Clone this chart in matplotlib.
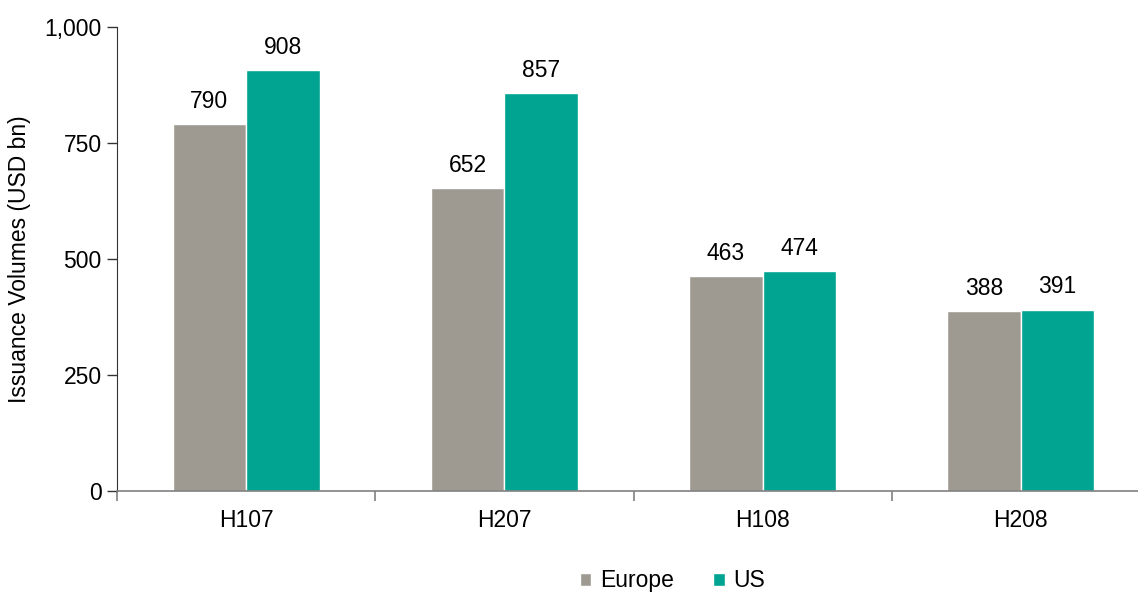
import numpy as np
import matplotlib.pyplot as plt
from matplotlib.ticker import FuncFormatter, FixedLocator

# Issuance volumes by half-year
periods = ['H107', 'H207', 'H108', 'H208']
europe = [790, 652, 463, 388]
us = [908, 857, 474, 391]

europe_color = '#9e9a92'
us_color = '#00a491'

plt.rcParams['font.family'] = ['Liberation Sans', 'DejaVu Sans']
fs = 16.5

fig = plt.figure(figsize=(11.38, 5.92), dpi=100)
ax = fig.add_axes([117 / 1138, 1 - 491 / 592, 1033 / 1138, 464 / 592])

x = np.arange(len(periods))
w = 0.285
b1 = ax.bar(x - w / 2, europe, w, color=europe_color, edgecolor='white', linewidth=1, label='Europe')
b2 = ax.bar(x + w / 2, us, w, color=us_color, edgecolor='white', linewidth=1, label='US')

for bars, vals in ((b1, europe), (b2, us)):
    for bar, v in zip(bars, vals):
        ax.annotate(f'{v}', (bar.get_x() + bar.get_width() / 2, v),
                    xytext=(0, 8), textcoords='offset points',
                    ha='center', va='bottom', fontsize=fs)

ax.set_xlim(-0.5, len(periods) - 0.5)
ax.set_ylim(0, 1000)
ax.set_yticks([0, 250, 500, 750, 1000])
ax.yaxis.set_major_formatter(FuncFormatter(lambda v, p: f'{int(v):,}'))
ax.set_ylabel('Issuance Volumes (USD bn)', fontsize=fs, labelpad=10)

ax.set_xticks(x)
ax.set_xticklabels(periods, fontsize=fs)
ax.xaxis.set_minor_locator(FixedLocator(np.arange(len(periods) + 1) - 0.5))
ax.tick_params(axis='x', which='major', length=0, pad=13)
ax.tick_params(axis='x', which='minor', length=7, color='#808080', width=1.2)
ax.tick_params(axis='y', length=7, width=1, labelsize=fs, pad=4, color='#333333')

for s in ('top', 'right'):
    ax.spines[s].set_visible(False)
ax.spines['left'].set_color('#333333')
ax.spines['bottom'].set_color('#808080')
ax.spines['bottom'].set_linewidth(1.2)

fig.legend(handles=[b1, b2], labels=['Europe', 'US'], loc='center',
           bbox_to_anchor=(0.591, 0.019), ncol=2, frameon=False, fontsize=fs,
           handlelength=0.5, handleheight=0.5, columnspacing=1.7, handletextpad=0.4)

fig.savefig('out.png', dpi=100)
